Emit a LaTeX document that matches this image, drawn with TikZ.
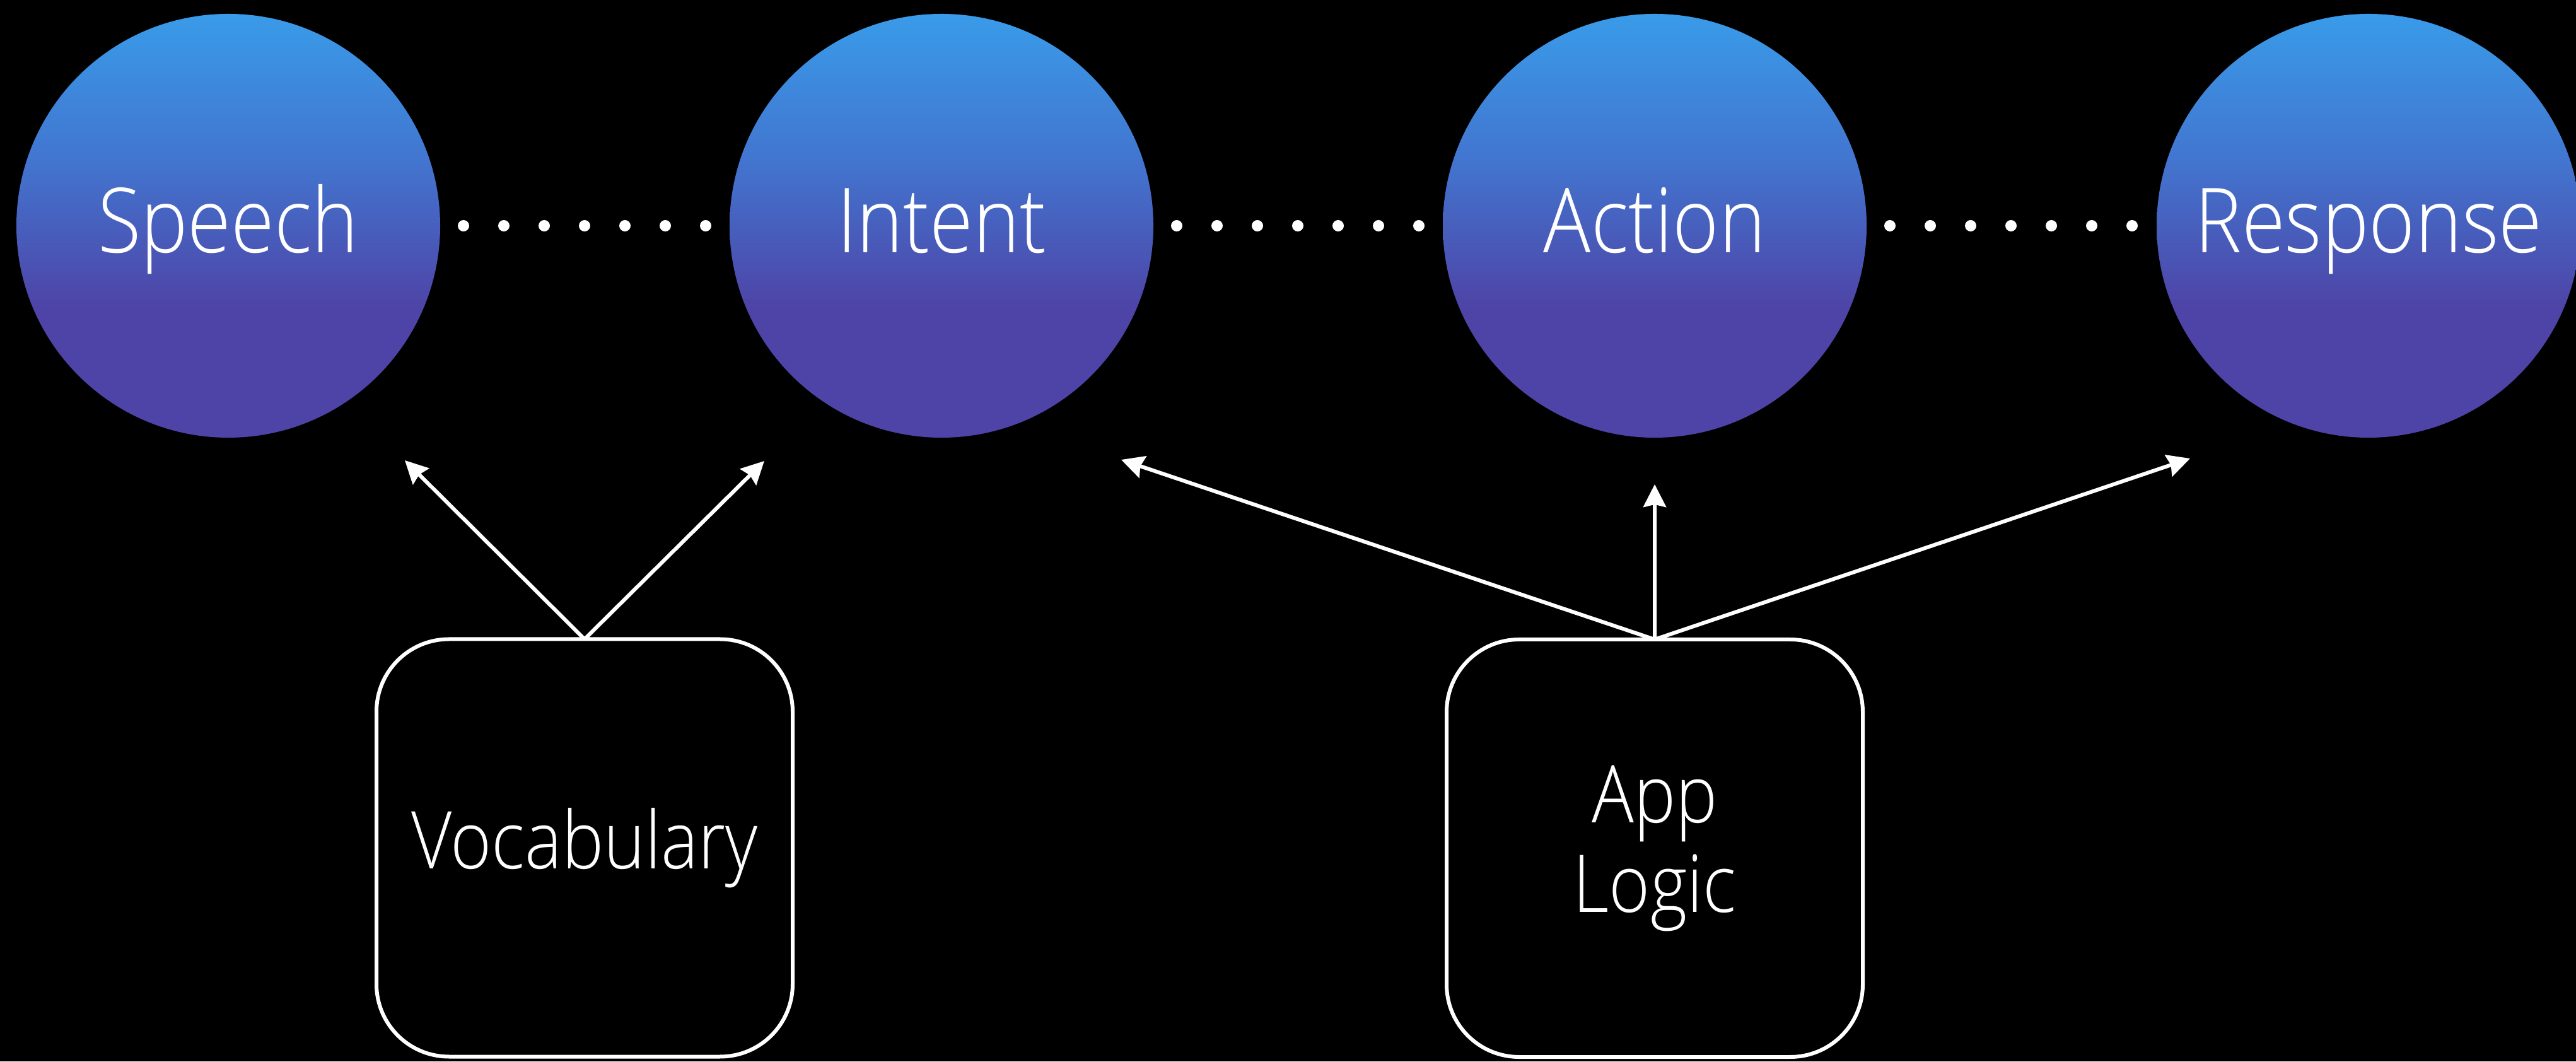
\documentclass[tikz,border=0pt]{standalone}
\usepackage{fontspec}
\setmainfont{Open Sans Light}[FakeStretch=0.88]
\usepackage{tikz}
\usetikzlibrary{arrows.meta,positioning}

\definecolor{orbtop}{RGB}{57,155,233}
\definecolor{orbmid}{RGB}{66,118,208}
\definecolor{orbbot}{RGB}{78,67,166}
\pgfdeclareverticalshading{orbshade}{100bp}{color(0bp)=(orbbot); color(25bp)=(orbbot); color(40bp)=(orbbot); color(58bp)=(orbmid); color(75bp)=(orbtop); color(100bp)=(orbtop)}

\tikzset{
	orb/.style={circle,shading=orbshade,minimum size=6.72cm,inner sep=0pt,outer sep=0pt,
		text=white,font=\fontsize{40.5}{44}\selectfont,text height=1.16cm,text depth=0.3cm},
	blockbox/.style={draw=white,line width=0.06cm,rounded corners=1.15cm,minimum width=6.6cm,
		minimum height=6.62cm,outer sep=0pt,text=white,align=center,font=\fontsize{36}{40.4}\selectfont},
	arr/.style={draw=white,line width=0.06cm,-{Stealth[length=0.36cm,width=0.36cm,inset=0.04cm]}},
	dotrow/.style={draw=white,line width=0.18cm,line cap=round,dash pattern=on 0pt off 0.64cm,
		shorten <=0.37cm,shorten >=0.36cm}
}

\begin{document}
\begin{tikzpicture}
		\fill[black] (0,0) rectangle (40.85,16.83);
		\useasboundingbox (0,0) rectangle (40.85,16.83);

		\node[orb] (speech) at (3.62,13.25) {Speech};
		\node[orb,right=4.59cm of speech] (intent) {Intent};
		\node[orb,right=4.59cm of intent] (action) {Action};
		\node[orb,right=4.6cm of action] (response) {Response};

		\node[blockbox] (vocab) at (9.27,3.385) {Vocabulary};
		\node[blockbox,below=3.2cm of action] (logic) {App\\Logic};

		\coordinate (vocab-l) at (6.42,9.53);
		\coordinate (vocab-r) at (12.12,9.52);
		\coordinate (logic-l) at (17.78,9.54);
		\coordinate (logic-u) at (26.24,9.15);
		\coordinate (logic-r) at (34.73,9.56);

		\path
			(speech) edge[dotrow] (intent)
			(intent) edge[dotrow] (action)
			(action) edge[dotrow] (response);

		\path
			(vocab.north) edge[arr] (vocab-l)
			(vocab.north) edge[arr] (vocab-r)
			(logic.north)
				edge[arr] (logic-l)
				edge[arr] (logic-u)
				edge[arr] (logic-r)
			;
	\end{tikzpicture}
\end{document}
